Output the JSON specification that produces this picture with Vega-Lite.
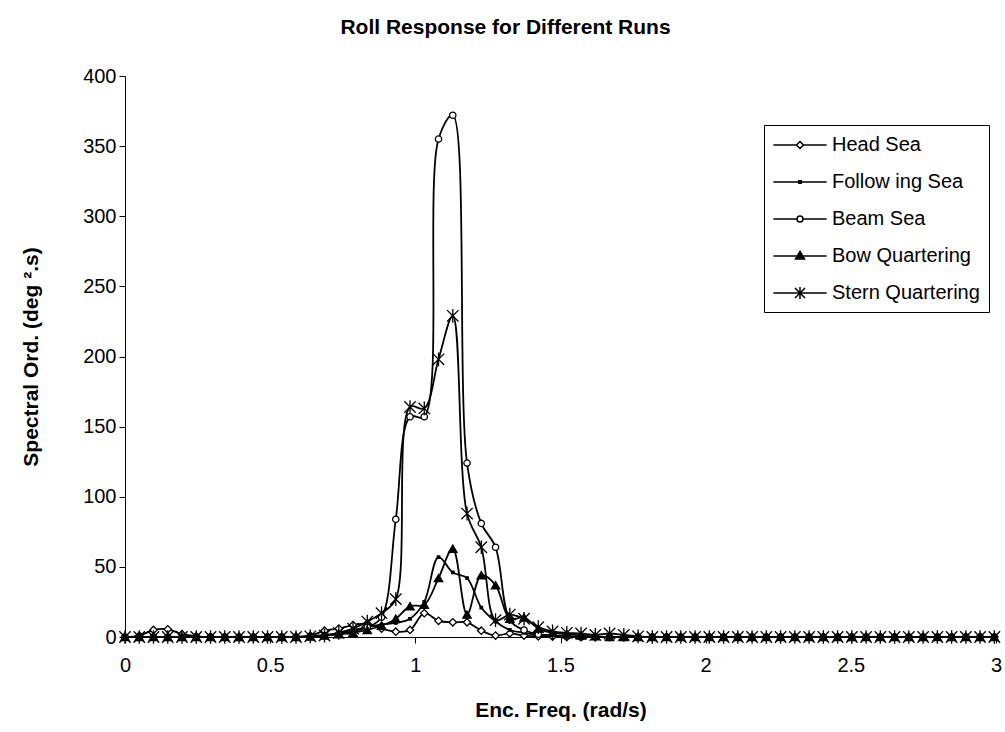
{
  "$schema": "https://vega.github.io/schema/vega-lite/v6.json",
  "width": 871,
  "height": 561,
  "autosize": "none",
  "padding": {"left": 125, "top": 76, "right": 9, "bottom": 95},
  "background": "white",
  "title": {"text": "Roll Response for Different Runs", "fontSize": 21, "fontWeight": "bold", "font": "Liberation Sans", "anchor": "middle", "dx": -55, "offset": 28, "color": "black"},
  "data": {"values": [
    {"x": 0, "Head Sea": 0, "Follow ing Sea": 0, "Beam Sea": 0, "Bow  Quartering": 0, "Stern Quartering": 0},
    {"x": 0.0491, "Head Sea": 1, "Follow ing Sea": 0, "Beam Sea": 0, "Bow  Quartering": 0, "Stern Quartering": 0},
    {"x": 0.0982, "Head Sea": 5, "Follow ing Sea": 0, "Beam Sea": 0, "Bow  Quartering": 0, "Stern Quartering": 0},
    {"x": 0.1473, "Head Sea": 5.5, "Follow ing Sea": 0, "Beam Sea": 0, "Bow  Quartering": 0, "Stern Quartering": 0},
    {"x": 0.1963, "Head Sea": 2, "Follow ing Sea": 0, "Beam Sea": 0, "Bow  Quartering": 0, "Stern Quartering": 0},
    {"x": 0.2454, "Head Sea": 0.5, "Follow ing Sea": 0, "Beam Sea": 0, "Bow  Quartering": 0, "Stern Quartering": 0},
    {"x": 0.2945, "Head Sea": 0, "Follow ing Sea": 0, "Beam Sea": 0, "Bow  Quartering": 0, "Stern Quartering": 0},
    {"x": 0.3436, "Head Sea": 0, "Follow ing Sea": 0, "Beam Sea": 0, "Bow  Quartering": 0, "Stern Quartering": 0},
    {"x": 0.3927, "Head Sea": 0, "Follow ing Sea": 0, "Beam Sea": 0, "Bow  Quartering": 0, "Stern Quartering": 0},
    {"x": 0.4418, "Head Sea": 0, "Follow ing Sea": 0, "Beam Sea": 0, "Bow  Quartering": 0, "Stern Quartering": 0},
    {"x": 0.4909, "Head Sea": 0, "Follow ing Sea": 0, "Beam Sea": 0, "Bow  Quartering": 0, "Stern Quartering": 0},
    {"x": 0.54, "Head Sea": 0, "Follow ing Sea": 0, "Beam Sea": 0, "Bow  Quartering": 0, "Stern Quartering": 0},
    {"x": 0.589, "Head Sea": 0.2, "Follow ing Sea": 0, "Beam Sea": 0, "Bow  Quartering": 0, "Stern Quartering": 0},
    {"x": 0.6381, "Head Sea": 1, "Follow ing Sea": 0.5, "Beam Sea": 0.3, "Bow  Quartering": 0.3, "Stern Quartering": 0.5},
    {"x": 0.6872, "Head Sea": 4.5, "Follow ing Sea": 1.5, "Beam Sea": 1, "Bow  Quartering": 1, "Stern Quartering": 1},
    {"x": 0.7363, "Head Sea": 6, "Follow ing Sea": 3, "Beam Sea": 2, "Bow  Quartering": 2, "Stern Quartering": 3},
    {"x": 0.7854, "Head Sea": 8.5, "Follow ing Sea": 5, "Beam Sea": 4, "Bow  Quartering": 3, "Stern Quartering": 6},
    {"x": 0.8345, "Head Sea": 9.5, "Follow ing Sea": 7, "Beam Sea": 7, "Bow  Quartering": 5, "Stern Quartering": 11},
    {"x": 0.8836, "Head Sea": 6, "Follow ing Sea": 9, "Beam Sea": 14, "Bow  Quartering": 8, "Stern Quartering": 17},
    {"x": 0.9327, "Head Sea": 3.8, "Follow ing Sea": 10, "Beam Sea": 84, "Bow  Quartering": 13, "Stern Quartering": 27},
    {"x": 0.9817, "Head Sea": 5, "Follow ing Sea": 13, "Beam Sea": 157, "Bow  Quartering": 22, "Stern Quartering": 164},
    {"x": 1.0308, "Head Sea": 17, "Follow ing Sea": 25, "Beam Sea": 157, "Bow  Quartering": 23, "Stern Quartering": 163},
    {"x": 1.0799, "Head Sea": 11.5, "Follow ing Sea": 57, "Beam Sea": 355, "Bow  Quartering": 42, "Stern Quartering": 198},
    {"x": 1.129, "Head Sea": 10.5, "Follow ing Sea": 46, "Beam Sea": 372, "Bow  Quartering": 63, "Stern Quartering": 229},
    {"x": 1.1781, "Head Sea": 10.5, "Follow ing Sea": 42, "Beam Sea": 124, "Bow  Quartering": 16, "Stern Quartering": 88},
    {"x": 1.2272, "Head Sea": 4.5, "Follow ing Sea": 21, "Beam Sea": 81, "Bow  Quartering": 44, "Stern Quartering": 64},
    {"x": 1.2763, "Head Sea": 1, "Follow ing Sea": 11, "Beam Sea": 64, "Bow  Quartering": 37, "Stern Quartering": 12},
    {"x": 1.3254, "Head Sea": 2.6, "Follow ing Sea": 5, "Beam Sea": 12, "Bow  Quartering": 13, "Stern Quartering": 16},
    {"x": 1.3744, "Head Sea": 1, "Follow ing Sea": 3, "Beam Sea": 5, "Bow  Quartering": 14, "Stern Quartering": 13},
    {"x": 1.4235, "Head Sea": 0.5, "Follow ing Sea": 1.5, "Beam Sea": 2, "Bow  Quartering": 6, "Stern Quartering": 7},
    {"x": 1.4726, "Head Sea": 0.3, "Follow ing Sea": 1, "Beam Sea": 1, "Bow  Quartering": 3, "Stern Quartering": 4},
    {"x": 1.5217, "Head Sea": 0, "Follow ing Sea": 0.5, "Beam Sea": 0.5, "Bow  Quartering": 2, "Stern Quartering": 3},
    {"x": 1.5708, "Head Sea": 0, "Follow ing Sea": 0, "Beam Sea": 0, "Bow  Quartering": 1, "Stern Quartering": 2.5},
    {"x": 1.6199, "Head Sea": 0, "Follow ing Sea": 0, "Beam Sea": 0, "Bow  Quartering": 0.5, "Stern Quartering": 1.5},
    {"x": 1.669, "Head Sea": 0, "Follow ing Sea": 0, "Beam Sea": 0, "Bow  Quartering": 0, "Stern Quartering": 2.5},
    {"x": 1.7181, "Head Sea": 0, "Follow ing Sea": 0, "Beam Sea": 0, "Bow  Quartering": 0, "Stern Quartering": 1.5},
    {"x": 1.7671, "Head Sea": 0, "Follow ing Sea": 0, "Beam Sea": 0, "Bow  Quartering": 0, "Stern Quartering": 0.5},
    {"x": 1.8162, "Head Sea": 0, "Follow ing Sea": 0, "Beam Sea": 0, "Bow  Quartering": 0, "Stern Quartering": 0},
    {"x": 1.8653, "Head Sea": 0, "Follow ing Sea": 0, "Beam Sea": 0, "Bow  Quartering": 0, "Stern Quartering": 0},
    {"x": 1.9144, "Head Sea": 0, "Follow ing Sea": 0, "Beam Sea": 0, "Bow  Quartering": 0, "Stern Quartering": 0},
    {"x": 1.9635, "Head Sea": 0, "Follow ing Sea": 0, "Beam Sea": 0, "Bow  Quartering": 0, "Stern Quartering": 0},
    {"x": 2.0126, "Head Sea": 0, "Follow ing Sea": 0, "Beam Sea": 0, "Bow  Quartering": 0, "Stern Quartering": 0},
    {"x": 2.0617, "Head Sea": 0, "Follow ing Sea": 0, "Beam Sea": 0, "Bow  Quartering": 0, "Stern Quartering": 0},
    {"x": 2.1108, "Head Sea": 0, "Follow ing Sea": 0, "Beam Sea": 0, "Bow  Quartering": 0, "Stern Quartering": 0},
    {"x": 2.1598, "Head Sea": 0, "Follow ing Sea": 0, "Beam Sea": 0, "Bow  Quartering": 0, "Stern Quartering": 0},
    {"x": 2.2089, "Head Sea": 0, "Follow ing Sea": 0, "Beam Sea": 0, "Bow  Quartering": 0, "Stern Quartering": 0},
    {"x": 2.258, "Head Sea": 0, "Follow ing Sea": 0, "Beam Sea": 0, "Bow  Quartering": 0, "Stern Quartering": 0},
    {"x": 2.3071, "Head Sea": 0, "Follow ing Sea": 0, "Beam Sea": 0, "Bow  Quartering": 0, "Stern Quartering": 0},
    {"x": 2.3562, "Head Sea": 0, "Follow ing Sea": 0, "Beam Sea": 0, "Bow  Quartering": 0, "Stern Quartering": 0},
    {"x": 2.4053, "Head Sea": 0, "Follow ing Sea": 0, "Beam Sea": 0, "Bow  Quartering": 0, "Stern Quartering": 0},
    {"x": 2.4544, "Head Sea": 0, "Follow ing Sea": 0, "Beam Sea": 0, "Bow  Quartering": 0, "Stern Quartering": 0},
    {"x": 2.5035, "Head Sea": 0, "Follow ing Sea": 0, "Beam Sea": 0, "Bow  Quartering": 0, "Stern Quartering": 0},
    {"x": 2.5525, "Head Sea": 0, "Follow ing Sea": 0, "Beam Sea": 0, "Bow  Quartering": 0, "Stern Quartering": 0},
    {"x": 2.6016, "Head Sea": 0, "Follow ing Sea": 0, "Beam Sea": 0, "Bow  Quartering": 0, "Stern Quartering": 0},
    {"x": 2.6507, "Head Sea": 0, "Follow ing Sea": 0, "Beam Sea": 0, "Bow  Quartering": 0, "Stern Quartering": 0},
    {"x": 2.6998, "Head Sea": 0, "Follow ing Sea": 0, "Beam Sea": 0, "Bow  Quartering": 0, "Stern Quartering": 0},
    {"x": 2.7489, "Head Sea": 0, "Follow ing Sea": 0, "Beam Sea": 0, "Bow  Quartering": 0, "Stern Quartering": 0},
    {"x": 2.798, "Head Sea": 0, "Follow ing Sea": 0, "Beam Sea": 0, "Bow  Quartering": 0, "Stern Quartering": 0},
    {"x": 2.8471, "Head Sea": 0, "Follow ing Sea": 0, "Beam Sea": 0, "Bow  Quartering": 0, "Stern Quartering": 0},
    {"x": 2.8962, "Head Sea": 0, "Follow ing Sea": 0, "Beam Sea": 0, "Bow  Quartering": 0, "Stern Quartering": 0},
    {"x": 2.9452, "Head Sea": 0, "Follow ing Sea": 0, "Beam Sea": 0, "Bow  Quartering": 0, "Stern Quartering": 0},
    {"x": 2.9943, "Head Sea": 0, "Follow ing Sea": 0, "Beam Sea": 0, "Bow  Quartering": 0, "Stern Quartering": 0}
  ]},
  "transform": [
    {"fold": ["Head Sea", "Follow ing Sea", "Beam Sea", "Bow  Quartering", "Stern Quartering"], "as": ["series", "y"]}
  ],
  "encoding": {
    "x": {
      "field": "x", "type": "quantitative",
      "scale": {"domain": [0, 3], "nice": false, "zero": false},
      "axis": {"title": "Enc. Freq. (rad/s)", "values": [0, 0.5, 1, 1.5, 2, 2.5, 3], "format": "~g", "labelPadding": 12, "titlePadding": 24, "labelFlush": false}
    },
    "y": {
      "field": "y", "type": "quantitative",
      "scale": {"domain": [0, 400], "nice": false},
      "axis": {"title": "Spectral Ord. (deg ².s)", "values": [0, 50, 100, 150, 200, 250, 300, 350, 400], "labelPadding": 3, "titlePadding": 41}
    }
  },
  "layer": [
    {
      "mark": {"type": "line", "interpolate": "catmull-rom", "color": "black", "strokeWidth": 1.8, "clip": true},
      "encoding": {"detail": {"field": "series"}}
    },
    {
      "mark": {"type": "point", "filled": true, "stroke": "black", "strokeWidth": 1.3, "opacity": 1},
      "encoding": {
        "shape": {"field": "series", "legend": null, "scale": {
          "type": "ordinal",
          "domain": ["Head Sea", "Follow ing Sea", "Beam Sea", "Bow  Quartering", "Stern Quartering"],
          "range": ["diamond", "square", "circle", "triangle-up", "M-1,-1L1,1M-1,1L1,-1M0,-1.2L0,1.2"]}},
        "fill": {"field": "series", "legend": null, "scale": {
          "type": "ordinal",
          "domain": ["Head Sea", "Follow ing Sea", "Beam Sea", "Bow  Quartering", "Stern Quartering"],
          "range": ["white", "black", "white", "black", "black"]}},
        "size": {"field": "series", "legend": null, "scale": {
          "type": "ordinal",
          "domain": ["Head Sea", "Follow ing Sea", "Beam Sea", "Bow  Quartering", "Stern Quartering"],
          "range": [55, 6, 40, 70, 130]}}
      }
    },
    {
      "mark": {"type": "point", "filled": true, "stroke": "black", "opacity": 0},
      "encoding": {
        "shape": {"field": "series", "scale": {
          "type": "ordinal",
          "domain": ["Head Sea", "Follow ing Sea", "Beam Sea", "Bow  Quartering", "Stern Quartering"],
          "range": [
            "M-2.66,0L-0.35,0M0.35,0L2.66,0M-0.35,0L0,-0.35L0.35,0L0,0.35Z",
            "M-2.66,0L2.66,0M-0.13,-0.13L0.13,-0.13L0.13,0.13L-0.13,0.13Z",
            "M-2.66,0L-0.3,0M0.3,0L2.66,0M0.3,0A0.3,0.3 0 1,1 -0.3,0A0.3,0.3 0 1,1 0.3,0Z",
            "M-2.66,0L2.66,0M0,-0.45L0.45,0.3L-0.45,0.3Z",
            "M-2.66,0L2.66,0M-0.5,-0.5L0.5,0.5M-0.5,0.5L0.5,-0.5M0,-0.6L0,0.6"
          ]},
          "legend": {"title": null, "orient": "none", "legendX": 639, "legendY": 49,
            "encode": {"symbols": {"update": {"stroke": {"value": "black"}, "strokeWidth": {"value": 1.5}, "strokeOpacity": {"value": 1}, "opacity": {"value": 1}}}}}},
        "fill": {"field": "series", "scale": {
          "type": "ordinal",
          "domain": ["Head Sea", "Follow ing Sea", "Beam Sea", "Bow  Quartering", "Stern Quartering"],
          "range": ["white", "black", "white", "black", "black"]},
          "legend": {"title": null, "orient": "none", "legendX": 639, "legendY": 49,
            "encode": {"symbols": {"update": {"stroke": {"value": "black"}, "strokeWidth": {"value": 1.5}, "strokeOpacity": {"value": 1}, "opacity": {"value": 1}}}}}}
      }
    }
  ],
  "resolve": {"scale": {"shape": "independent", "fill": "independent", "size": "independent"}},
  "config": {
    "font": "Liberation Sans",
    "view": {"stroke": null},
    "axis": {
      "grid": false, "domainColor": "black", "tickColor": "black", "labelColor": "black", "titleColor": "black",
      "labelFontSize": 20, "titleFontSize": 21, "titleFontWeight": "bold", "labelFont": "Liberation Sans", "titleFont": "Liberation Sans",
      "tickSize": 6, "domainWidth": 1, "tickWidth": 1
    },
    "legend": {
      "strokeColor": "black", "fillColor": "white", "padding": 9, "symbolOffset": 16, "labelOffset": 21,
      "rowPadding": 16, "labelFontSize": 20, "labelFont": "Liberation Sans", "labelColor": "black",
      "symbolSize": 400, "symbolStrokeColor": "black", "symbolStrokeWidth": 1.5, "symbolOpacity": 1, "labelLimit": 300
    }
  }
}
